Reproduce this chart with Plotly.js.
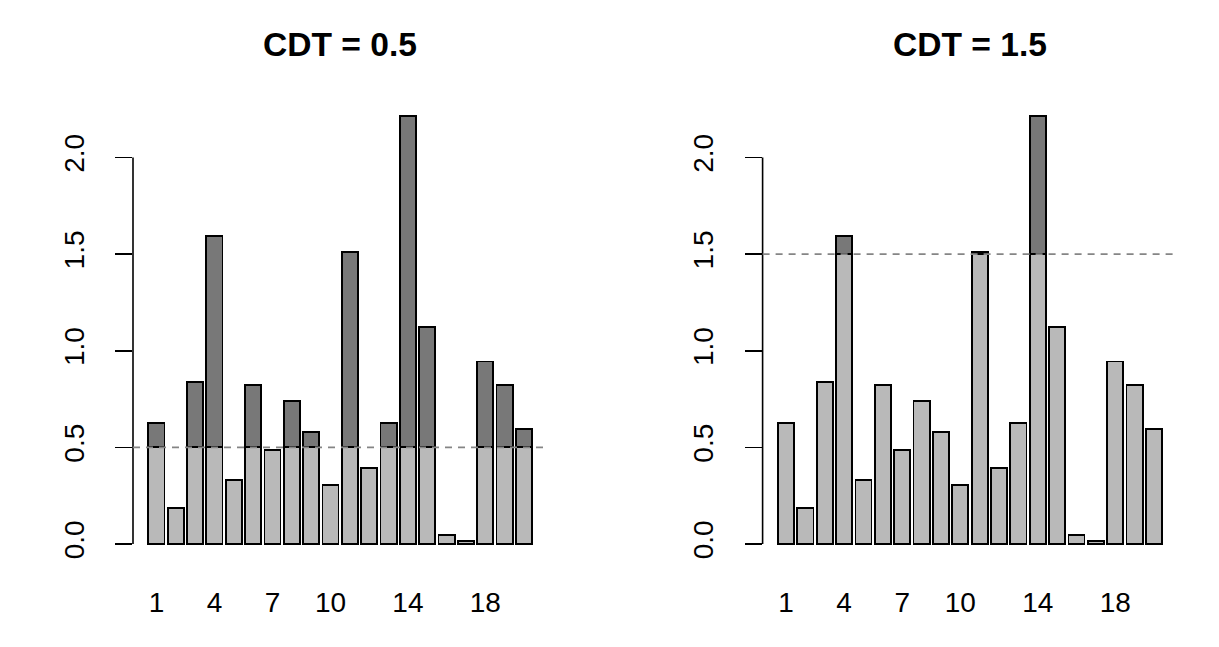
<!DOCTYPE html>
<html>
<head>
<meta charset="utf-8">
<script src="https://cdn.plot.ly/plotly-3.0.1.min.js"></script>
<style>html,body{margin:0;padding:0;background:#fff;}#chart{width:1219px;height:647px;}</style>
</head>
<body>
<div id="chart"></div>
<script>
// ---- data ----
var categories = ["1","2","3","4","5","6","7","8","9","10","11","12","13","14","15","16","17","18","19","20"];
var values = [0.628, 0.186, 0.837, 1.596, 0.331, 0.823, 0.488, 0.740, 0.578, 0.307,
              1.513, 0.392, 0.625, 2.217, 1.125, 0.047, 0.017, 0.944, 0.823, 0.595];
var thresholds = [0.5, 1.5];
var panelTitles = ["CDT = 0.5", "CDT = 1.5"];
var xTickLabels = ["1","4","7","10","14","18"];
var yTickValues = [0, 0.5, 1.0, 1.5, 2.0];
var yTickLabels = ["0.0","0.5","1.0","1.5","2.0"];

// ---- styling ----
var LIGHT = "#b9b9b9", DARK = "#787878";
var FONT = "Liberation Sans, Arial, Helvetica, sans-serif";
var W = 1219, H = 647;
var xDomains = [[133/W, 547.4/W], [762.6/W, 1177.4/W]];
var yDomain = [1 - 561.1/H, 1 - 98.5/H];
var ymax = Math.max.apply(null, values);
var yRange = [-0.04*ymax, ymax*1.04];

var traces = [], shapes = [], annotations = [];
var layout = {
  width: W, height: H,
  margin: {l:0, r:0, t:0, b:0},
  paper_bgcolor: "#fff", plot_bgcolor: "#fff",
  showlegend: false,
  barmode: "stack",
  bargap: 0.2/1.2,
  font: {family: FONT, color: "#000"}
};

thresholds.forEach(function(cdt, p){
  var xa = p === 0 ? "x" : "x2";
  var ya = p === 0 ? "y" : "y2";
  var low = values.map(function(v){ return Math.min(v, cdt); });
  var high = values.map(function(v){ return v > cdt ? v - cdt : null; });
  traces.push({type:"bar", x:categories, y:low, xaxis:xa, yaxis:ya,
    marker:{color:LIGHT, line:{color:"#000", width:1.8}}, hoverinfo:"skip"});
  traces.push({type:"bar", x:categories, y:high, xaxis:xa, yaxis:ya,
    marker:{color:DARK, line:{color:"#000", width:1.8}}, hoverinfo:"skip"});

  var xName = p === 0 ? "xaxis" : "xaxis2";
  var yName = p === 0 ? "yaxis" : "yaxis2";
  layout[xName] = {
    domain: xDomains[p], anchor: ya, type:"category",
    categoryorder:"array", categoryarray: categories,
    range: [-1.21, 20.21], fixedrange:true,
    showgrid:false, zeroline:false, showline:false, ticks:"",
    tickmode:"array", tickvals: xTickLabels, ticktext: xTickLabels,
    tickfont:{family:FONT, size:28, color:"#000"},
    ticklabelstandoff: 22
  };
  layout[yName] = {
    domain: yDomain, anchor: xa, range: yRange, fixedrange:true,
    showgrid:false, zeroline:false, showline:false,
    ticks:"outside", ticklen:17, tickwidth:1.6, tickcolor:"#000",
    tickmode:"array", tickvals: yTickValues, ticktext: yTickLabels,
    tickangle:-90,
    tickfont:{family:FONT, size:28, color:"#000"},
    ticklabelstandoff: 20
  };
  // y axis line from first to last tick (R style)
  shapes.push({type:"line", xref: xa + " domain", yref: ya,
    x0:0, x1:0, y0:yTickValues[0], y1:yTickValues[yTickValues.length-1],
    line:{color:"#000", width:1.6}});
  // threshold dashed line
  shapes.push({type:"line", xref: xa + " domain", yref: ya,
    x0:0, x1:1, y0:cdt, y1:cdt, layer:"above",
    line:{color:"#858585", width:1.8, dash:"7px,6px"}});
  annotations.push({xref:"paper", yref:"paper",
    x:(xDomains[p][0]+xDomains[p][1])/2, y:1-44.7/H,
    xanchor:"center", yanchor:"middle", showarrow:false,
    text:"<b>"+panelTitles[p]+"</b>",
    font:{family:FONT, size:33.6, color:"#000"}});
});
layout.shapes = shapes;
layout.annotations = annotations;

Plotly.newPlot("chart", traces, layout, {staticPlot:true, displayModeBar:false});
</script>
</body>
</html>
